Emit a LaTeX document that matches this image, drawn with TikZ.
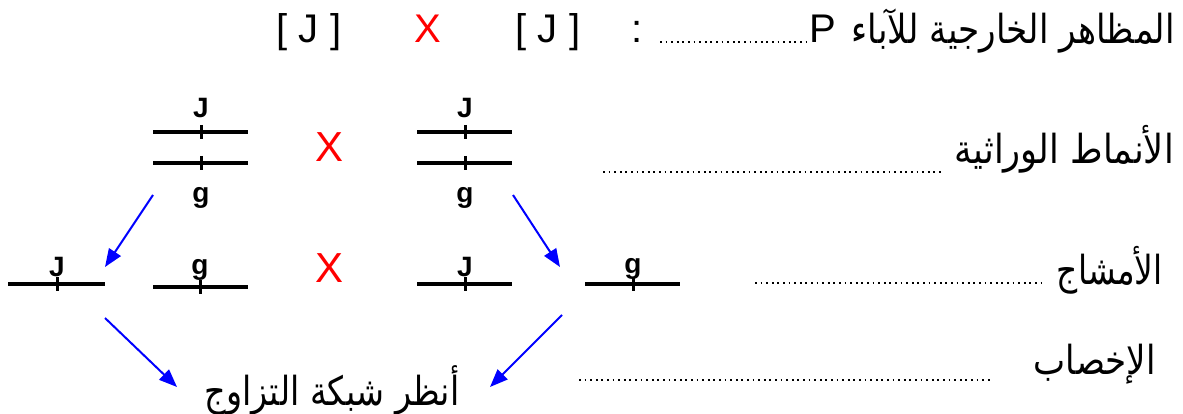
\documentclass[tikz,border=0pt]{standalone}
\usepackage{fontspec}
\setmainfont{Liberation Sans}
\newfontfamily\arabicfont[Script=Arabic]{DejaVu Sans}
\TeXXeTstate=1
\usetikzlibrary{arrows.meta}
\newcommand\artxt[2]{\resizebox{#1}{\height}{\arabicfont\fontsize{40}{44}\selectfont #2}}
\newcommand\chrombar[4]{% x1, x2, xtick, y
  \draw[bar] (#1,#4) -- (#2,#4);
  \draw[tickmark] (#3,#4-7) -- (#3,#4+7);}
\begin{document}
\begin{tikzpicture}[x=1pt,y=-1pt,
  bar/.style={line width=3.3pt},
  tickmark/.style={line width=3pt},
  gl/.style={font=\bfseries\fontsize{28}{28}\selectfont, inner sep=0pt, anchor=base},
  cross/.style={text=red, font=\fontsize{42}{42}\selectfont, inner sep=0pt, anchor=base},
  big/.style={font=\fontsize{40}{40}\selectfont, inner sep=0pt, anchor=base},
  lead/.style={line width=1.8pt, dash pattern=on 1.8pt off 3.8pt},
  arr/.style={blue, line width=2pt, -{Triangle[length=18pt,width=14pt]}},
  ar/.style={inner sep=0pt, anchor=east}]
\useasboundingbox (0,0) rectangle (1183,414);
% top row
\node[big] (b1) at (309,43) {[ J ]};
\node[cross, font=\fontsize{40}{40}\selectfont] (x1) at (428,43) {X};
\node[big] (b2) at (548,43) {[ J ]};
\node[big] (colon) at (637,43) {:};
\draw[lead] (660,42) -- (807,42);
\node[big] (P) at (823,43) {P};
\node[ar] (t1) at (1175,31) {\artxt{323pt}{\beginR المظاهر الخارجية للآباء\endR}};
% genotypes
\chrombar{153}{248}{201}{132}
\chrombar{153}{248}{201}{163}
\node[gl] (j1) at (201,118) {J};
\node[gl] (g1) at (201,203) {g};
\node[cross] (x2) at (330,162) {X};
\chrombar{417}{512}{465}{132}
\chrombar{417}{512}{465}{163}
\node[gl] (j2) at (465,118) {J};
\node[gl] (g2) at (465,203) {g};
\draw[lead] (603,172) -- (942,172);
\node[ar] (t2) at (1174,149) {\artxt{219pt}{\beginR الأنماط الوراثية\endR}};
% gametes
\chrombar{8}{105}{57}{284}
\node[gl] (j3) at (57,276) {J};
\chrombar{153}{248}{200}{287}
\node[gl] (g3) at (200,274) {g};
\node[cross] (x3) at (330,282) {X};
\chrombar{417}{512}{465}{284}
\node[gl] (j4) at (465,276) {J};
\chrombar{585}{680}{633}{284}
\node[gl] (g4) at (633,273) {g};
\draw[lead] (755,283) -- (1042,283);
\node[ar] (t3) at (1163,270) {\artxt{106pt}{\beginR الأمشاج\endR}};
% fertilisation
\draw[lead] (579,380) -- (992,380);
\node[ar] (t4) at (1156,364) {\artxt{122pt}{\beginR الإخصاب\endR}};
\node[inner sep=0pt] (grid) at (332,390) {\artxt{255pt}{\beginR أنظر شبكة التزاوج\endR}};
% arrows
\coordinate (a1s) at (153,195); \coordinate (a1e) at (105,267);
\coordinate (a2s) at (513,195); \coordinate (a2e) at (560,267);
\coordinate (a3s) at (105,318); \coordinate (a3e) at (177,387);
\coordinate (a4s) at (562,315); \coordinate (a4e) at (490,387);
\draw[arr] (a1s) -- (a1e);
\draw[arr] (a2s) -- (a2e);
\draw[arr] (a3s) -- (a3e);
\draw[arr] (a4s) -- (a4e);
\end{tikzpicture}
\end{document}
